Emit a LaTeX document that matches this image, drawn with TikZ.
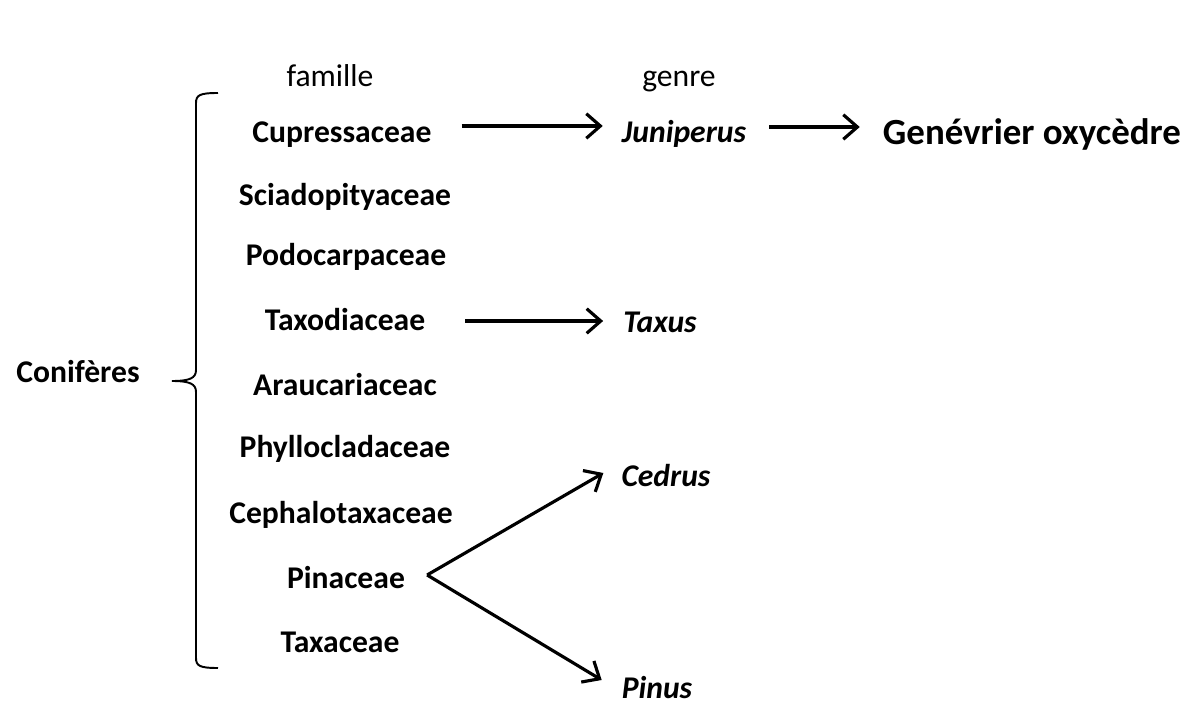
\documentclass[tikz,border=0pt]{standalone}
\usepackage{fontspec}
\setmainfont{Carlito}
\usetikzlibrary{arrows.meta,positioning}

\begin{document}
\begin{tikzpicture}[x=0.02cm, y=-0.02cm,
          every node/.style={anchor=base},
          fam/.style={font=\fontsize{18}{21}\selectfont\bfseries},
          gen/.style={font=\fontsize{18}{21}\selectfont\bfseries\itshape},
          lbl/.style={font=\fontsize{18}{21}\selectfont},
          big/.style={font=\fontsize{21}{25}\selectfont\bfseries},
          link/.style={-{Straight Barb[length=8pt,width=14pt,line width=1.8pt]},line width=1.8pt}
      ]
        \useasboundingbox (0,0) rectangle (1188,706);
        % column headers
        \node[lbl] (hfam) at (330, 87) {famille};
        \node[lbl] (hgen) at (679, 87) {genre};
        % families
        \node[fam] (cup) at (342,143) {Cupressaceae};
        \node[fam] (sci) at (345,206) {Sciadopityaceae};
        \node[fam] (pod) at (346,266) {Podocarpaceae};
        \node[fam] (txd) at (345,330) {Taxodiaceae};
        \node[fam] (ara) at (345,395) {Araucariaceac};
        \node[fam] (phy) at (345,457) {Phyllocladaceae};
        \node[fam] (cep) at (341,523) {Cephalotaxaceae};
        \node[fam] (pin) at (346,588) {Pinaceae};
        \node[fam] (txc) at (340,652) {Taxaceae};
        \node[fam] (con) at (78,382) {Conifères};
        % genera
        \node[gen] (jun) at (684,143) {Juniperus};
        \node[gen] (tax) at (660,333) {Taxus};
        \node[gen] (ced) at (666,486) {Cedrus};
        \node[gen,inner sep=1pt] (pinus) at (657,698) {Pinus};
        \node[big] (oxy) at (1032,145) {Genévrier oxycèdre};
        % brace
        \draw[line width=1.1pt] (218,93) .. controls (200,93) and (196,95) .. (196,103) -- (196,370)
              .. controls (196,378) and (190,381) .. (172,381)
              .. controls (190,381) and (196,384) .. (196,392) -- (196,658)
              .. controls (196,666) and (200,668) .. (218,668);
        % arrows
        \coordinate (fork) at ([shift={(16,-13)}]pin.base east);
        \draw[link] ([shift={(24,-17)}]cup.base east) -- ([shift={(-13,-17)}]jun.base west);
        \draw[link] ([shift={(17,-16)}]jun.base east) -- ([shift={(-17,-18)}]oxy.base west);
        \draw[link] ([shift={(34,-9)}]txd.base east) -- ([shift={(-14,-12)}]tax.base west);
        \draw[link] (fork) -- ([shift={(-12,-13)}]ced.base west);
        \draw[link] (fork) -- ([shift={(-18,-18)}]pinus.base west);
      \end{tikzpicture}
\end{document}
